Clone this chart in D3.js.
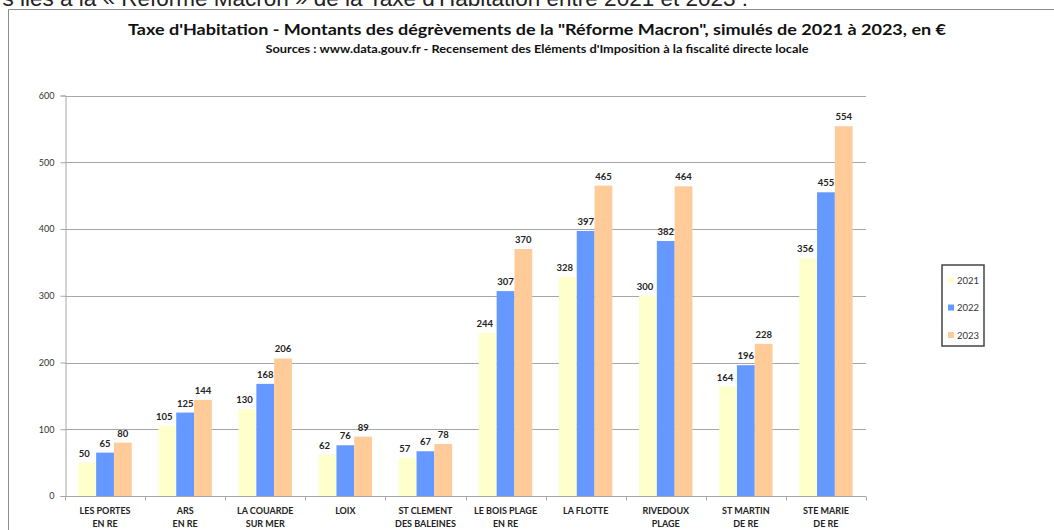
<!DOCTYPE html>
<html>
<head>
<meta charset="utf-8">
<script src="https://cdn.jsdelivr.net/npm/d3@7"></script>
<style>
  body { margin: 0; background: #fff; overflow: hidden; }
  svg { display: block; font-family: Lato, "Open Sans", sans-serif; }
</style>
</head>
<body>
<div id="chart"></div>
<script>
const communes = [
    ['LES PORTES', 'EN RE'], ['ARS', 'EN RE'], ['LA COUARDE', 'SUR MER'], ['LOIX'],
    ['ST CLEMENT', 'DES BALEINES'], ['LE BOIS PLAGE', 'EN RE'], ['LA FLOTTE'],
    ['RIVEDOUX', 'PLAGE'], ['ST MARTIN', 'DE RE'], ['STE MARIE', 'DE RE']
];
const years = ['2021', '2022', '2023'];
const values2021 = [50, 105, 130, 62, 57, 244, 328, 300, 164, 356];
const values2022 = [65, 125, 168, 76, 67, 307, 397, 382, 196, 455];
const values2023 = [80, 144, 206, 89, 78, 370, 465, 464, 228, 554];
const yTicks = [0, 100, 200, 300, 400, 500, 600];
const colors = ['#FFFFCC', '#6699FF', '#FFCC99'];

const series = [values2021, values2022, values2023];
const width = 1054, height = 530;

const svg = d3.select('#chart').append('svg')
    .attr('width', width)
    .attr('height', height);

// text of the page above the chart (cut off by the screenshot)
svg.append('text')
    .attr('x', 748).attr('y', 6)
    .attr('text-anchor', 'end')
    .style('font-family', 'Liberation Sans, Arial, sans-serif')
    .style('font-size', '22.5px')
    .attr('fill', '#222')
    .text("s liés à la « Réforme Macron » de la Taxe d'Habitation entre 2021 et 2023 :");

// chart frame
svg.append('path')
    .attr('d', `M8.5,${height} V9.5 H${width}`)
    .attr('fill', 'none')
    .attr('stroke', '#8c8c8c');

svg.append('text')
    .attr('x', 537).attr('y', 35)
    .attr('text-anchor', 'middle')
    .attr('textLength', 818).attr('lengthAdjust', 'spacingAndGlyphs')
    .style('font-size', '15px').style('font-weight', 'bold')
    .attr('fill', '#111')
    .text('Taxe d\'Habitation - Montants des dégrèvements de la "Réforme Macron", simulés de 2021 à 2023, en €');

svg.append('text')
    .attr('x', 537).attr('y', 53)
    .attr('text-anchor', 'middle')
    .attr('textLength', 543).attr('lengthAdjust', 'spacingAndGlyphs')
    .style('font-size', '10.5px').style('font-weight', 'bold')
    .attr('fill', '#111')
    .text("Sources : www.data.gouv.fr - Recensement des Eléments d'Imposition à la fiscalité directe locale");

const plotLeft = 65, plotRight = 866, plotTop = 95.5, plotBottom = 496;

const y = d3.scaleLinear().domain([0, 600]).range([plotBottom, plotTop]);
const x0 = d3.scaleBand().domain(d3.range(communes.length)).range([plotLeft, plotRight]);
const bw = x0.bandwidth();
const x1 = d3.scaleBand().domain(years).range([bw / 6, bw * 5 / 6]);

// gridlines
svg.append('g')
    .selectAll('line')
    .data(yTicks.filter(d => d > 0))
    .enter().append('line')
    .attr('x1', plotLeft).attr('x2', plotRight)
    .attr('y1', d => Math.round(y(d)) + 0.5).attr('y2', d => Math.round(y(d)) + 0.5)
    .attr('stroke', '#a6a6a6');

// y axis
const yAxis = svg.append('g')
    .attr('transform', `translate(${plotLeft + 0.5},0)`)
    .call(d3.axisLeft(y).tickValues(yTicks).tickSize(5).tickPadding(6));
yAxis.selectAll('line, path').attr('stroke', '#a6a6a6');
yAxis.selectAll('text').style('font-size', '9px').attr('fill', '#333').style('font-family', 'Lato, sans-serif');

// bars
const groups = svg.append('g')
    .selectAll('g')
    .data(communes.map((c, i) => i))
    .enter().append('g')
    .attr('transform', i => `translate(${x0(i)},0)`);

groups.selectAll('rect')
    .data(i => years.map((yr, s) => ({ yr, s, v: series[s][i] })))
    .enter().append('rect')
    .attr('x', d => x1(d.yr))
    .attr('width', x1.bandwidth())
    .attr('y', d => y(d.v))
    .attr('height', d => y(0) - y(d.v))
    .attr('fill', d => colors[d.s]);

groups.selectAll('text')
    .data(i => years.map((yr, s) => ({ yr, s, v: series[s][i] })))
    .enter().append('text')
    .attr('x', d => x1(d.yr) + x1.bandwidth() / 2 - (d.s === 0 ? 3 : 0))
    .attr('y', d => y(d.v) - 6)
    .attr('text-anchor', 'middle')
    .style('font-size', '9.5px').style('font-weight', 'bold')
    .attr('fill', '#222')
    .text(d => d.v);

// x axis
const xAxis = svg.append('g').attr('transform', `translate(0,${plotBottom + 0.5})`);
xAxis.append('line')
    .attr('x1', plotLeft).attr('x2', plotRight)
    .attr('stroke', '#a6a6a6');
xAxis.selectAll('.tick')
    .data(d3.range(communes.length + 1))
    .enter().append('line')
    .attr('x1', i => Math.round(plotLeft + i * bw) + 0.5).attr('x2', i => Math.round(plotLeft + i * bw) + 0.5)
    .attr('y1', 0).attr('y2', 4)
    .attr('stroke', '#a6a6a6');

const labels = xAxis.selectAll('text')
    .data(communes)
    .enter().append('text')
    .attr('x', (c, i) => x0(i) + bw / 2)
    .attr('y', 17)
    .attr('text-anchor', 'middle')
    .style('font-size', '9px').style('font-weight', 'bold')
    .attr('fill', '#222');
labels.selectAll('tspan')
    .data(c => c)
    .enter().append('tspan')
    .attr('x', function () { return d3.select(this.parentNode).attr('x'); })
    .attr('dy', (d, k) => k === 0 ? 0 : 13)
    .text(d => d);

// legend
const legend = svg.append('g').attr('transform', 'translate(942,265)');
legend.append('rect')
    .attr('width', 42).attr('height', 81)
    .attr('fill', '#fff')
    .attr('stroke', '#444').attr('stroke-width', 1.5);
const items = legend.selectAll('g.item')
    .data(years)
    .enter().append('g')
    .attr('transform', (d, i) => `translate(0,${15 + i * 27.5})`);
items.append('rect')
    .attr('x', 6).attr('y', -3)
    .attr('width', 6).attr('height', 6)
    .attr('fill', (d, i) => colors[i]);
items.append('text')
    .attr('x', 15).attr('y', 3.5)
    .style('font-size', '9.5px')
    .attr('fill', '#333')
    .text(d => d);
</script>
</body>
</html>
